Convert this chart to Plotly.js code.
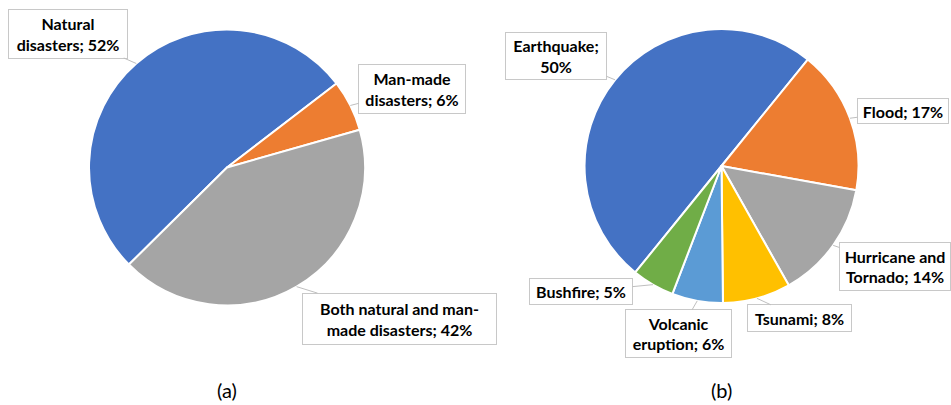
<!DOCTYPE html>
<html>
<head>
<meta charset="utf-8">
<script src="https://cdn.plot.ly/plotly-3.0.1.min.js"></script>
<style>html,body{margin:0;padding:0;background:#fff}#chart{width:951px;height:405px}</style>
</head>
<body>
<div id="chart"></div>
<script>
// ---- Data ----
const typeLabels = ['Natural disasters', 'Man-made disasters', 'Both natural and man-made disasters'];
const typeValues = [52, 6, 42];
const typeDisplay = ['Natural<br>disasters', 'Man-made<br>disasters', 'Both natural and man-<br>made disasters'];
const typeSeps = ['; ', '; ', '; '];

const naturalLabels = ['Earthquake', 'Flood', 'Hurricane and Tornado', 'Tsunami', 'Volcanic eruption', 'Bushfire'];
const naturalValues = [50, 17, 14, 8, 6, 5];
const naturalDisplay = ['Earthquake', 'Flood', 'Hurricane and<br>Tornado', 'Tsunami', 'Volcanic<br>eruption', 'Bushfire'];
const naturalSeps = [';<br>', '; ', '; ', '; ', '; ', '; '];

const captions = ['(a)', '(b)'];

// ---- Layout constants ----
const W = 951, H = 405;
const pies = [
  {cx: 227, cy: 167.5, r: 138, rotation: -134.7,
   colors: ['#4472C4', '#ED7D31', '#A5A5A5'],
   offs: [[-68, -30], [62, -16], [103, 32]],
   boxW: [112, 100, 187], boxH: [42, 42, 44]},
  {cx: 721.5, cy: 166, r: 137, rotation: -141,
   colors: ['#4472C4', '#ED7D31', '#A5A5A5', '#FFC000', '#5B9BD5', '#70AD47'],
   offs: [[-59, -24], [53, -7], [62, 21], [43, 20], [-19, 33], [-72, 7]],
   boxW: [94, 84, 104, 97, 99, 96], boxH: [40, 18, 41, 20, 41, 19]}
];
const sets = [
  {labels: typeLabels, values: typeValues, disp: typeDisplay, seps: typeSeps},
  {labels: naturalLabels, values: naturalValues, disp: naturalDisplay, seps: naturalSeps}
];

const traces = [];
const annotations = [];
const labelFont = {family: 'Lato, "Open Sans", sans-serif', size: 16, color: '#000', weight: 'bold'};

sets.forEach((s, k) => {
  const p = pies[k];
  traces.push({
    type: 'pie', labels: s.labels, values: s.values, sort: false,
    direction: 'clockwise', rotation: p.rotation,
    marker: {colors: p.colors, line: {color: '#fff', width: 2}},
    textinfo: 'none', hoverinfo: 'label+percent', showlegend: false,
    domain: {x: [(p.cx - p.r) / W, (p.cx + p.r) / W], y: [1 - (p.cy + p.r) / H, 1 - (p.cy - p.r) / H]}
  });
  const total = s.values.reduce((a, b) => a + b, 0);
  let cum = 0;
  s.values.forEach((v, i) => {
    const mid = (p.rotation + 360 * (cum + v / 2) / total) * Math.PI / 180;
    cum += v;
    const ex = p.cx + p.r * Math.sin(mid);
    const ey = p.cy - p.r * Math.cos(mid);
    annotations.push({
      xref: 'paper', yref: 'paper', x: ex / W, y: 1 - ey / H,
      text: s.disp[i] + s.seps[i] + Math.round(100 * v / total) + '%',
      showarrow: true, arrowhead: 0, arrowwidth: 1, arrowcolor: '#BFBFBF', standoff: 0,
      ax: p.offs[i][0], ay: p.offs[i][1],
      font: labelFont, align: 'center',
      bgcolor: '#fff', bordercolor: '#C8C8C8', borderwidth: 1, borderpad: 3,
      width: p.boxW[i], height: p.boxH[i]
    });
  });
  annotations.push({
    xref: 'paper', yref: 'paper', x: p.cx / W, y: 1 - 390 / H,
    text: captions[k], showarrow: false, xanchor: 'center', yanchor: 'middle',
    font: {family: 'Lato, "Open Sans", sans-serif', size: 20, color: '#000'}
  });
});

Plotly.newPlot('chart', traces, {
  width: W, height: H, margin: {l: 0, r: 0, t: 0, b: 0},
  paper_bgcolor: '#fff', plot_bgcolor: '#fff',
  annotations: annotations, showlegend: false
}, {displayModeBar: false, staticPlot: true});
</script>
</body>
</html>
